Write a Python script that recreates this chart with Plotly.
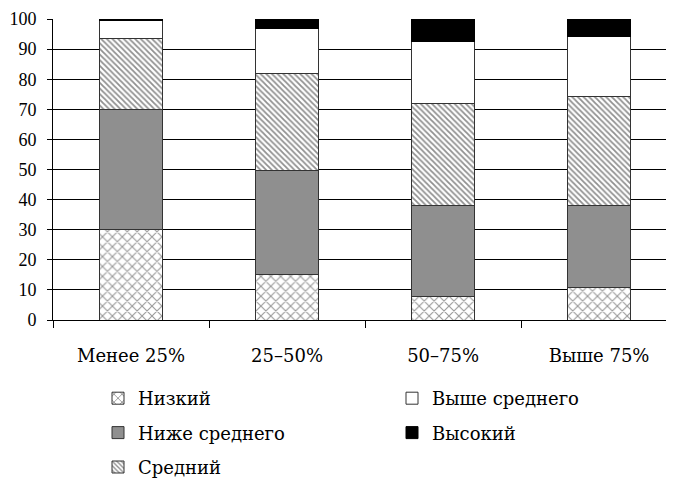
import plotly.graph_objects as go

# Категории и доли (%) по уровням
categories = ["Менее 25%", "25–50%", "50–75%", "Выше 75%"]
nizkiy = [30, 15.2, 7.7, 10.7]
nizhe_srednego = [40, 34.5, 30.4, 27.5]
sredniy = [23.4, 32.1, 33.9, 36.0]
vyshe_srednego = [6.1, 15.0, 20.5, 19.9]
vysokiy = [0.5, 3.2, 7.5, 5.9]

FONT = "DejaVu Serif"
W, H = 666, 472  # страница сдвинута на 8px отступом body

fig = go.Figure()

series = [
    ("Низкий", nizkiy, dict(color="white", line=dict(color="#333", width=1),
                            pattern=dict(shape="x", fgcolor="#333", bgcolor="white", size=7, solidity=0.3)), "legend", "g1"),
    ("Ниже среднего", nizhe_srednego, dict(color="#8f8f8f", line=dict(color="#333", width=1)), "legend", "g2"),
    ("Средний", sredniy, dict(color="white", line=dict(color="#333", width=1),
                              pattern=dict(shape="\\", fgcolor="#222", bgcolor="white", size=4, solidity=0.45)), "legend", "g3"),
    ("Выше среднего", vyshe_srednego, dict(color="white", line=dict(color="#333", width=1)), "legend2", "g4"),
    ("Высокий", vysokiy, dict(color="black", line=dict(color="black", width=1)), "legend2", "g5"),
]

for name, vals, marker, leg, grp in series:
    fig.add_trace(go.Bar(
        x=categories, y=vals, name=name, marker=marker, width=0.4,
        legend=leg, legendgroup=grp,
    ))

legend_style = dict(
    orientation="v", traceorder="grouped", tracegroupgap=8,
    font=dict(family=FONT, size=18, color="black"),
    bgcolor="rgba(0,0,0,0)", xref="container", yref="container",
    xanchor="left", yanchor="top",
)

fig.update_layout(
    width=W, height=H,
    barmode="stack",
    plot_bgcolor="white", paper_bgcolor="white",
    margin=dict(l=45, r=0, t=11, b=160, autoexpand=False),
    font=dict(family=FONT, size=16, color="black"),
    legend=dict(x=90 / W, y=1 - 372 / H, **legend_style),
    legend2=dict(x=384 / W, y=1 - 372 / H, **legend_style),
    xaxis=dict(
        range=[-0.5, 3.48], tickson="boundaries", ticks="outside", ticklen=7,
        tickcolor="black", showline=True, linecolor="black", linewidth=1,
        showgrid=False, tickfont=dict(size=18), ticklabelstandoff=19,
        tickangle=0, automargin=False,
    ),
    yaxis=dict(
        range=[0, 100], dtick=10, ticks="outside", ticklen=5, tickcolor="black",
        showline=True, linecolor="black", linewidth=1,
        showgrid=True, gridcolor="black", gridwidth=1, zeroline=False,
        tickfont=dict(family="Liberation Serif", size=18), ticklabelstandoff=7,
        automargin=False,
    ),
    bargap=0.6,
)

fig.write_html("out.html")
